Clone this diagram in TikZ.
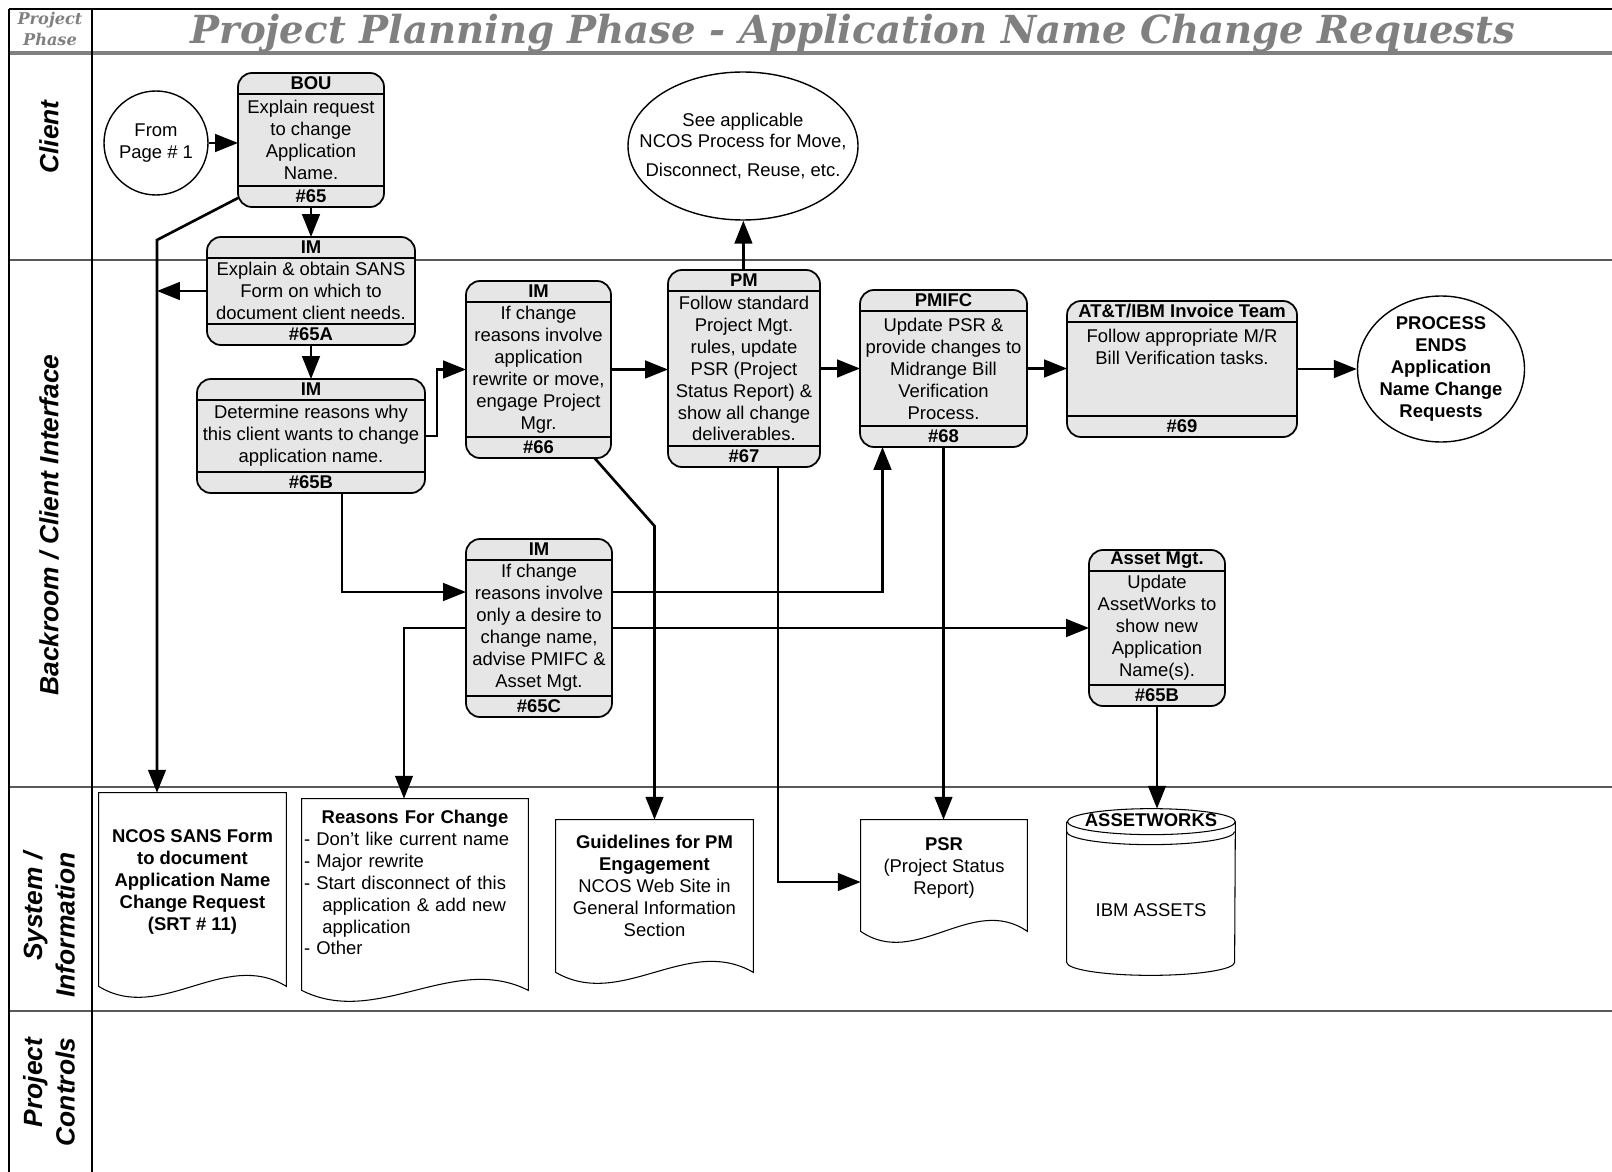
\documentclass[tikz,border=0pt]{standalone}
\usepackage{fontspec}
\setmainfont{Liberation Sans}
\newfontfamily\slabfont{DejaVu Serif}
\usetikzlibrary{arrows.meta,shapes.geometric}

\definecolor{boxgray}{RGB}{230,230,230}
\definecolor{titlegray}{RGB}{128,128,128}

\tikzset{
  taskbox/.style={draw, line width=1pt, rounded corners=0.28cm, fill=boxgray, inner sep=0pt, outer sep=0pt},
  divider/.style={line width=1pt},
  head/.style={font=\fontsize{10.5}{12.5}\selectfont\bfseries},
  docbox/.style={inner sep=0pt},
  docline/.style={draw, line width=0.6pt},
  flow/.style={-{Triangle[length=13pt,width=10pt]}, line width=1.5pt},
  lane/.style={rotate=90, align=right, font=\fontsize{15}{18.5}\selectfont\bfseries\itshape},
  laneline/.style={gray!70!black, line width=0.7pt}
}

\newcommand{\task}[7]{%
  \node[taskbox, minimum width=#3*0.02cm, minimum height=#4*0.02cm] (#1) at #2 {};
  \draw[divider] ([shift={(0,21)}]#1.north west) -- ([shift={(0,21)}]#1.north east)
    ([shift={(0,-21)}]#1.south west) -- ([shift={(0,-21)}]#1.south east);
  \node[head] (#1-h) at ([shift={(0,10.5)}]#1.north) {#5};
  \node[align=center] (#1-b) at (#1.center) {#6};
  \node[head] (#1-f) at ([shift={(0,-10.5)}]#1.south) {#7};
}

\newcommand{\wave}[3]{%
  \draw[docline] (#1.north west) -- (#1.north east) -- ([shift={(0,#2)}]#1.south east)
    .. controls +(-#3,-38) and +(#3,38) .. ([shift={(0,#2)}]#1.south west) -- cycle;
}

\begin{document}
\begin{tikzpicture}[x=0.02cm, y=-0.02cm, font=\fontsize{10.5}{12.5}\selectfont]
\useasboundingbox (0,0) rectangle (1612,1172);

\draw[line width=1.5pt] (9,9) -- (1612,9);
\draw[titlegray, line width=1.8pt] (9,53) -- (1612,53);
\foreach \y in {260,787,1011}
  \draw[laneline] (9,\y) -- (1612,\y);
\draw[line width=0.8pt] (9,9) -- (9,1172) (92,9) -- (92,1172);

\node[font=\slabfont\fontsize{9.2}{12}\selectfont\bfseries\itshape, text=titlegray, align=center] (phase) at (50,29) {Project\\Phase};
\node[font=\slabfont\fontsize{22}{27}\selectfont\bfseries\itshape, text=titlegray, anchor=base] (title) at (853,44) {Project Planning Phase - Application Name Change Requests};

\node[lane] (client) at (49,137) {Client};
\node[lane] (backroom) at (49,525) {Backroom / Client Interface};
\node[lane] (system) at (49,925) {System /\\Information};
\node[lane] (controls) at (49,1092) {Project\\Controls};

\node[draw, circle, line width=0.8pt, minimum size=104*0.02cm, inner sep=0pt, align=center] (from) at (156,143) {From\\Page \# 1};
\node[draw, ellipse, line width=0.8pt, minimum width=230*0.02cm, minimum height=148*0.02cm, inner sep=0pt] (see) at (743,146) {};
\node[align=center] (seetext) at (see.center) {See applicable\\NCOS Process for Move,\\[4pt]Disconnect, Reuse, etc.};
\node[draw, ellipse, line width=0.8pt, minimum width=167*0.02cm, minimum height=146*0.02cm, inner sep=0pt] (done) at (1441,369) {};
\node[align=center, head] (donetext) at (done.center) {PROCESS\\ENDS\\Application\\Name Change\\Requests};

\task{bou}{(311,140)}{146}{134}{BOU}{Explain request\\to change\\Application\\Name.}{\#65}
\task{c65A}{(311,291)}{208}{108}{IM}{Explain \& obtain SANS\\Form on which to\\document client needs.}{\#65A}
\task{c65B}{(311,436)}{228}{114}{IM}{Determine reasons why\\this client wants to change\\application name.}{\#65B}
\task{c66}{(538.5,369.5)}{145}{177}{IM}{If change\\reasons involve\\application\\rewrite or move,\\engage Project\\Mgr.}{\#66}
\task{c67}{(744,368.5)}{152}{197}{PM}{Follow standard\\Project Mgt.\\rules, update\\PSR (Project\\Status Report) \&\\show all change\\deliverables.}{\#67}
\task{c68}{(943.5,368.5)}{167}{157}{PMIFC}{Update PSR \&\\provide changes to\\Midrange Bill\\Verification\\Process.}{\#68}
\task{c69}{(1182,369)}{230}{136}{AT\&T/IBM Invoice Team}{Follow appropriate M/R\\Bill Verification tasks.\\ \mbox{}\\ \mbox{}}{\#69}
\task{c65C}{(539,628)}{146}{178}{IM}{If change\\reasons involve\\only a desire to\\change name,\\advise PMIFC \&\\Asset Mgt.}{\#65C}
\task{asset}{(1157,628)}{136}{156}{Asset Mgt.}{Update\\AssetWorks to\\show new\\Application\\Name(s).}{\#65B}

\node[docbox, minimum width=187*0.02cm, minimum height=178*0.02cm, align=center, head] (ncos) at (192.5,882) {NCOS SANS Form\\to document\\Application Name\\Change Request\\(SRT \# 11)};
\wave{ncos}{15}{62}
\node[docbox, minimum width=226*0.02cm, minimum height=167*0.02cm, text width=4.44cm, align=left] (reasons) at (415,882.5) {\makebox[4.44cm][c]{\bfseries Reasons For Change}\\- Don't like current name\\- Major rewrite\\- Start disconnect of this\\\hspace*{10.5pt}application \& add new\\\hspace*{10.5pt}application\\- Other};
\wave{reasons}{24}{75}
\node[docbox, minimum width=197*0.02cm, minimum height=132*0.02cm, align=center] (guide) at (654.5,886) {\textbf{Guidelines for PM}\\\textbf{Engagement}\\NCOS Web Site in\\General Information\\Section};
\wave{guide}{20}{66}
\node[docbox, minimum width=166*0.02cm, minimum height=96*0.02cm, align=center] (psr) at (944,868) {\textbf{PSR}\\(Project Status\\Report)};
\wave{psr}{15}{55}

\node[minimum width=168*0.02cm, minimum height=166*0.02cm, inner sep=0pt] (aw) at (1151,892) {};
\draw[docline] ([shift={(0,13)}]aw.north west) -- ([shift={(0,-13)}]aw.south west)
  arc[start angle=180, end angle=360, x radius=1.68cm, y radius=0.26cm]
  -- ([shift={(0,13)}]aw.north east)
  arc[start angle=0, end angle=180, x radius=1.68cm, y radius=0.26cm]
  arc[start angle=180, end angle=360, x radius=1.68cm, y radius=0.26cm];
\draw[docline] ([shift={(0,23)}]aw.north west) arc[start angle=180, end angle=360, x radius=1.68cm, y radius=0.26cm];
\node[head] (awtop) at ([shift={(0,11)}]aw.north) {ASSETWORKS};
\node (awtext) at ([shift={(0,18)}]aw.center) {IBM ASSETS};

\coordinate (split) at (157,240);
\coordinate (k66) at (654.5,526);
\draw[flow] (from.east) -- (from.east -| bou.west);
\draw[flow] (bou) -- (c65A);
\draw[flow] ([shift={(0,-9)}]bou.south west) -- (split) -- (split |- ncos.north);
\draw[flow] (c65A.west) -- (c65A.west -| split);
\draw[flow] (c65A) -- (c65B);
\draw[flow] (c65B.east) -- ++(12,0) |- (c66.west);
\draw[flow] (c66.east) -- (c66.east -| c67.west);
\draw[flow] (c67) -- (see);
\draw[flow] (c67.east) -- (c67.east -| c68.west);
\draw[flow] (c68.east) -- (c68.east -| c69.west);
\draw[flow] (c69.east) -- (c69.east -| done.west);
\draw[flow] ([shift={(56,0)}]c66.south) -- (k66) -- (guide.north);
\draw[flow] ([shift={(34,0)}]c67.south) |- ([shift={(0,14)}]psr.west);
\draw[flow] (c68.south) -- (c68.south |- psr.north);
\draw[flow] ([shift={(31,0)}]c65B.south) |- ([shift={(0,-36)}]c65C.west);
\draw[flow] ([shift={(0,-36)}]c65C.east) -| ([shift={(-61,0)}]c68.south);
\draw[flow] (c65C.east) -- (c65C.east -| asset.west);
\draw[flow] (c65C.west) -| ([shift={(-11,0)}]reasons.north);
\draw[flow] (asset.south) -- (asset.south |- aw.north);
\end{tikzpicture}
\end{document}
